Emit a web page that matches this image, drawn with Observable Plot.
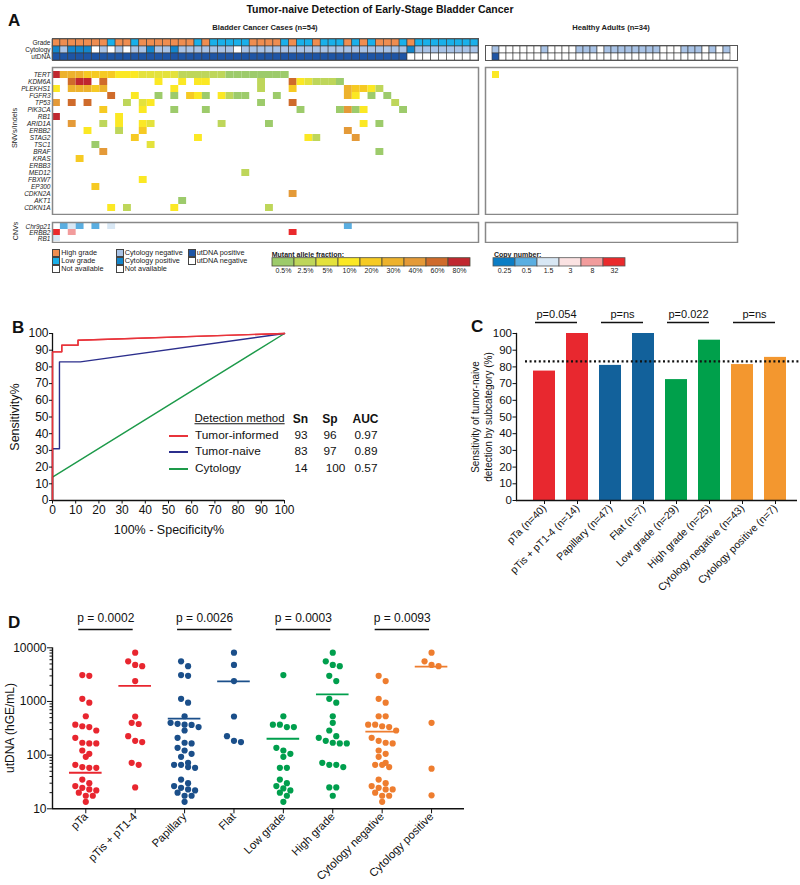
<!DOCTYPE html>
<html><head><meta charset="utf-8">
<script src="https://cdn.jsdelivr.net/npm/d3@7"></script>
<script src="https://cdn.jsdelivr.net/npm/@observablehq/plot@0.6"></script>
<style>
html,body{margin:0;padding:0;background:#fff;}
#root{position:relative;width:800px;height:885px;overflow:hidden;font-family:"Liberation Sans",Arial,sans-serif;color:#111;}
.t{position:absolute;white-space:nowrap;line-height:1;}
.w{position:absolute;}
</style></head><body><div id="root"></div>
<script>
// ================= DATA =================
// ---- Panel A ----
const genes = ["TERT","KDM6A","PLEKHS1","FGFR3","TP53","PIK3CA","RB1","ARID1A","ERBB2","STAG2","TSC1","BRAF","KRAS","ERBB3","MED12","FBXW7","EP300","CDKN2A","AKT1","CDKN1A"];
const cnvRows = ["Chr9p21","ERBB2","RB1"];
const annotRows = ["Grade","Cytology","utDNA"];
const nBladder = 54, nHealthy = 34;
const highGradeCases = [0,1,2,3,4,5,6,8,9,11,12,13,14,15,16,17,19,25,26,27,28,30,33,37,39,41,42,43,45];
const cytoPositiveCases = [0,2,3,4,12,15,45];
const cytoNACases = [5,7,9,23];
const utdnaNegativeCases = [45,46,47,48,49,50,51,52,53];
const healthyCytoNegative = [0,7,12,13,14,16,17,18,19,20,21,22,23,27,28,29,31,33];
const healthyUtdnaPositive = [0];
const annotLabels = ["High grade","Low grade","Cytology negative","Cytology positive","Not available","utDNA positive","utDNA negative"];
const annotColors = ["#ef8d50","#19b0ea","#a9c3e6","#1486cb","#ffffff","#1e55a5","#ffffff"];

const vafLabels = ["0.5%","2.5%","5%","10%","20%","30%","40%","60%","80%"];
const vafColors = ["#9dcb6b","#bed65a","#e4e23c","#fbe824","#f6ca23","#edb22d","#e49a38","#cf6b2b","#c0282f"];
const cnLabels = ["0.25","0.5","1.5","3","8","32"];
const cnColors = ["#0b7dc5","#5aaee1","#d8e7f4","#fbe2e2","#f29c9c","#ea2a2c"];

// SNV/indel calls per gene: [case index, mutant allele fraction bin]
const mTERT = [[0,"80%"],[1,"30%"],[2,"30%"],[3,"30%"],[4,"20%"],[5,"20%"],[6,"20%"],[7,"20%"],[8,"10%"],[9,"10%"],[10,"10%"],[11,"5%"],[12,"5%"],[13,"5%"],[14,"5%"],[15,"5%"],[16,"2.5%"],[17,"2.5%"],[18,"2.5%"],[19,"2.5%"],[20,"2.5%"],[21,"2.5%"],[22,"0.5%"],[23,"0.5%"],[24,"0.5%"],[25,"0.5%"],[26,"0.5%"],[27,"0.5%"],[28,"0.5%"],[29,"0.5%"]];
const mKDM6A = [[2,"60%"],[3,"80%"],[4,"80%"],[6,"60%"],[13,"10%"],[16,"10%"],[18,"10%"],[19,"10%"],[26,"2.5%"],[30,"60%"],[31,"10%"],[32,"5%"],[33,"2.5%"],[34,"2.5%"],[35,"2.5%"],[36,"0.5%"]];
const mPLEKHS1 = [[0,"10%"],[2,"30%"],[3,"30%"],[4,"30%"],[5,"20%"],[6,"30%"],[15,"10%"],[26,"2.5%"],[30,"20%"],[37,"30%"],[38,"20%"],[39,"20%"],[40,"10%"],[41,"2.5%"]];
const mFGFR3 = [[7,"60%"],[10,"10%"],[13,"0.5%"],[15,"0.5%"],[17,"20%"],[18,"10%"],[19,"0.5%"],[21,"10%"],[22,"2.5%"],[23,"0.5%"],[24,"0.5%"],[28,"0.5%"],[37,"30%"],[38,"10%"],[40,"0.5%"],[42,"0.5%"]];
const mTP53 = [[0,"40%"],[2,"60%"],[4,"60%"],[9,"2.5%"],[11,"5%"],[12,"10%"],[26,"0.5%"],[30,"60%"],[43,"2.5%"]];
const mPIK3CA = [[6,"20%"],[11,"10%"],[15,"0.5%"],[19,"0.5%"],[31,"0.5%"],[36,"0.5%"],[37,"40%"],[38,"0.5%"],[39,"10%"],[44,"0.5%"]];
const mRB1 = [[0,"80%"],[8,"10%"]];
const mARID1A = [[2,"40%"],[6,"2.5%"],[8,"10%"],[11,"10%"],[12,"5%"],[21,"2.5%"],[27,"0.5%"],[39,"10%"],[41,"0.5%"]];
const mERBB2 = [[4,"10%"],[8,"2.5%"],[11,"20%"],[37,"40%"]];
const mSTAG2 = [[10,"20%"],[18,"10%"],[32,"10%"],[33,"2.5%"],[38,"40%"]];
const mTSC1 = [[5,"0.5%"],[12,"5%"]];
const mBRAF = [[6,"40%"],[41,"0.5%"]];
const mKRAS = [[3,"20%"]];
const mERBB3 = [];
const mMED12 = [[24,"2.5%"]];
const mFBXW7 = [[11,"10%"]];
const mEP300 = [[5,"20%"]];
const mCDKN2A = [[30,"40%"]];
const mAKT1 = [[16,"0.5%"]];
const mCDKN1A = [[7,"10%"],[9,"2.5%"],[15,"10%"],[27,"2.5%"]];
const healthyTERT = [[0,"10%"]];
// CNV calls (bladder): [case, copy number bin]
const cChr9p21 = [[1,"0.5"],[2,"1.5"],[3,"0.5"],[5,"0.5"],[7,"1.5"],[37,"0.5"]];
const cERBB2 = [[0,"32"],[2,"8"],[30,"32"]];
const cRB1 = [[0,"1.5"]];

// ---- Panel B ----
const rocMethods = ["Tumor-informed","Tumor-naive","Cytology"];
const rocColors = ["#e8343b","#2b2e8c","#1d9a4a"];
const rocSn = ["93","83","14"];
const rocSp = ["96","97","100"];
const rocAUC = ["0.97","0.89","0.57"];
const rocTI_fpr = [0,0,4,4,11,11,100], rocTI_tpr = [0,89,89,93,93,96,100];
const rocTN_fpr = [0,0,3,3,12,100],    rocTN_tpr = [0,31,31,83,83,100];
const rocCY_fpr = [0,0,100],           rocCY_tpr = [0,14,100];

// ---- Panel C ----
const subcats = ["pTa (n=40)","pTis + pT1-4 (n=14)","Papillary (n=47)","Flat (n=7)","Low grade (n=29)","High grade (n=25)","Cytology negative (n=43)","Cytology positive (n=7)"];
const subSens = [77.5,100,80.9,100,72.4,96,81.4,85.7];
const subFamily = ["Stage","Stage","Morphology","Morphology","Grade","Grade","Cytology","Cytology"];
const familyNames = ["Stage","Morphology","Grade","Cytology"];
const familyColors = ["#e8282f","#12619b","#00a04b","#f3972f"];
const overallSens = 83.3;
const pValuesC = ["p=0.054","p=ns","p=0.022","p=ns"];

// ---- Panel D ----
const dGroups = ["pTa","pTis + pT1-4","Papillary","Flat","Low grade","High grade","Cytology negative","Cytology positive"];
const dColors = ["#e8262f","#e8262f","#1b4f8a","#1b4f8a","#009f4d","#009f4d","#ee7d2f","#ee7d2f"];
const utPTa = [3000,3100,1120,950,530,370,333,288,345,210,165,165,170,122,106,93,66,58,58,60,35,30,24.6,26.5,22,20,23,17.5,17.5,13.5];
const utPTis = [8100,5600,4550,4800,2400,525,400,380,226,175,185,72,66,25];
const utPapillary = [5600,4550,3000,3100,1120,950,530,400,370,333,365,383,288,210,165,170,137,122,106,93,72,66,58,60,66,35,30,26.5,24.6,22,20,23,17.5,17.5,13.5];
const utFlat = [8100,4800,2400,525,226,175,185];
const utLowGrade = [3100,530,370,333,333,370,122,137,106,93,58,58,35,30,26.5,24,22,20,17.5,13.5];
const utHighGrade = [8100,5600,4550,4800,3000,2400,1120,950,530,400,288,226,185,165,165,210,170,72,60,66,66,25,25,17.5];
const utCytoNeg = [3000,2400,1120,950,530,530,370,333,345,370,288,185,165,210,170,122,106,93,72,66,60,66,35,30,26.5,24.6,23,20,23,17.5,17.5,13.5];
const utCytoPos = [8100,5600,4800,4550,400,56,17.8];
const dMedians = [47,1950,480,2375,202,1350,275,4470];
const pValuesD = ["p = 0.0002","p = 0.0026","p = 0.0003","p = 0.0093"];

// ================= HELPERS =================
const FONT = '"Liberation Sans", Arial, sans-serif';
const root = document.getElementById("root");
function txt(s, x, y, o = {}) {
  const d = document.createElement("div");
  d.className = "t"; d.textContent = s;
  const size = o.size || 12, weight = o.weight || "normal", anchor = o.anchor || "start";
  const tx = anchor === "middle" ? "-50%" : anchor === "end" ? "-100%" : "0";
  d.style.left = x + "px"; d.style.top = y + "px";
  d.style.fontSize = size + "px"; d.style.fontWeight = weight;
  d.style.color = o.color || "#111";
  d.style.transform = `translate(${tx},-50%)` + (o.rotate ? ` rotate(${o.rotate}deg)` : "");
  if (o.extra) d.style.cssText += o.extra;
  root.appendChild(d); return d;
}
function place(node, x, y) {
  const d = document.createElement("div"); d.className = "w";
  d.style.left = x + "px"; d.style.top = y + "px";
  d.appendChild(node); root.appendChild(d); return d;
}
const baseStyle = {background: "transparent", fontFamily: FONT, color: "#111"};

function heat({data, rows, ncols, domain, range, width, height, ml = 0, mr = 0, mt = 1, mb = 1, labels = false, italic = false, cellStroke, frameStroke = "#888", frameWidth = 1.5}) {
  const marks = [
    Plot.cell(data, {x: "c", y: "r", fill: "v", stroke: cellStroke, strokeWidth: 0.6}),
    Plot.frame({stroke: frameStroke, strokeWidth: frameWidth})
  ];
  if (labels) marks.push(Plot.axisY({tickSize: 0, tickPadding: 2, fontSize: 6.5, fontStyle: italic ? "italic" : "normal", fill: "#222"}));
  return Plot.plot({
    width, height, marginLeft: ml, marginRight: mr, marginTop: mt, marginBottom: mb,
    style: baseStyle,
    x: {type: "band", domain: d3.range(ncols), padding: 0, axis: null, label: null},
    y: {type: "band", domain: rows, padding: 0, label: null, axis: labels ? undefined : null},
    color: {domain, range},
    marks
  });
}

// ================= PANEL A =================
txt("A", 8, 19.5, {size: 17, weight: "bold"});
txt("Tumor-naive Detection of Early-Stage Bladder Cancer", 380, 8.5, {size: 10.5, weight: "bold", anchor: "middle"});
txt("Bladder Cancer Cases (n=54)", 265, 27.5, {size: 7.6, weight: "bold", anchor: "middle", color: "#222"});
txt("Healthy Adults (n=34)", 611, 27.5, {size: 7.6, weight: "bold", anchor: "middle", color: "#222"});
txt("SNVs/Indels", 15, 128, {size: 7.3, anchor: "middle", rotate: -90, color: "#222"});
txt("CNVs", 15, 231, {size: 7, anchor: "middle", rotate: -90, color: "#222"});

const bladderAnnot = d3.range(nBladder).flatMap(i => [
  {c: i, r: "Grade", v: highGradeCases.includes(i) ? "High grade" : "Low grade"},
  {c: i, r: "Cytology", v: cytoPositiveCases.includes(i) ? "Cytology positive" : cytoNACases.includes(i) ? "Not available" : "Cytology negative"},
  {c: i, r: "utDNA", v: utdnaNegativeCases.includes(i) ? "utDNA negative" : "utDNA positive"}
]);
const healthyAnnot = d3.range(nHealthy).flatMap(i => [
  {c: i, r: "Cytology", v: healthyCytoNegative.includes(i) ? "Cytology negative" : "Not available"},
  {c: i, r: "utDNA", v: healthyUtdnaPositive.includes(i) ? "utDNA positive" : "utDNA negative"}
]);
const snvByGene = {TERT: mTERT, KDM6A: mKDM6A, PLEKHS1: mPLEKHS1, FGFR3: mFGFR3, TP53: mTP53, PIK3CA: mPIK3CA, RB1: mRB1, ARID1A: mARID1A, ERBB2: mERBB2, STAG2: mSTAG2, TSC1: mTSC1, BRAF: mBRAF, KRAS: mKRAS, ERBB3: mERBB3, MED12: mMED12, FBXW7: mFBXW7, EP300: mEP300, CDKN2A: mCDKN2A, AKT1: mAKT1, CDKN1A: mCDKN1A};
const bladderSNV = genes.flatMap(g => snvByGene[g].map(([c, v]) => ({c, r: g, v})));
const healthySNV = healthyTERT.map(([c, v]) => ({c, r: "TERT", v}));
const cnvByRow = {Chr9p21: cChr9p21, ERBB2: cERBB2, RB1: cRB1};
const bladderCNV = cnvRows.flatMap(g => cnvByRow[g].map(([c, v]) => ({c, r: g, v})));

place(heat({data: bladderAnnot, rows: annotRows, ncols: nBladder, domain: annotLabels, range: annotColors, width: 480, height: 24, ml: 52, mr: 2, labels: true, cellStroke: "#3a3a3a", frameStroke: "#555", frameWidth: 1}), 0, 37);
place(heat({data: healthyAnnot, rows: ["Cytology","utDNA"], ncols: nHealthy, domain: annotLabels, range: annotColors, width: 256, height: 17, ml: 2, mr: 2, cellStroke: "#3a3a3a", frameStroke: "#555", frameWidth: 1}), 483, 44);
place(heat({data: bladderSNV, rows: genes, ncols: nBladder, domain: vafLabels, range: vafColors, width: 480, height: 149, ml: 52, mr: 2, labels: true, italic: true}), 0, 66);
place(heat({data: healthySNV, rows: genes, ncols: nHealthy, domain: vafLabels, range: vafColors, width: 256, height: 149, ml: 2, mr: 2}), 483, 66);
place(heat({data: bladderCNV, rows: cnvRows, ncols: nBladder, domain: cnLabels, range: cnColors, width: 480, height: 22, ml: 52, mr: 2, labels: true, italic: true}), 0, 221);
place(heat({data: [], rows: cnvRows, ncols: nHealthy, domain: cnLabels, range: cnColors, width: 256, height: 22, ml: 2, mr: 2}), 483, 221);

// category legends
function swatch(color, x, y, label) {
  const b = document.createElement("div");
  b.style.cssText = `position:absolute;left:${x}px;top:${y}px;width:6.2px;height:6.2px;background:${color};border:0.8px solid #444;`;
  root.appendChild(b);
  txt(label, x + 9, y + 4, {size: 7.3, color: "#222"});
}
const legGroups = [
  [52.3, ["High grade","Low grade","Not available"]],
  [115.7, ["Cytology negative","Cytology positive","Not available"]],
  [187.7, ["utDNA positive","utDNA negative"]]
];
legGroups.forEach(([x, items]) => items.forEach((lab, k) => swatch(annotColors[annotLabels.indexOf(lab)], x, 249.3 + k * 7.9, lab)));

function colorBar(labels, colors, width, ml, mr, stroke) {
  return Plot.plot({
    width, height: 27, marginLeft: ml, marginRight: mr, marginTop: 7.7, marginBottom: 11,
    style: baseStyle,
    x: {type: "band", domain: labels, padding: 0, label: null},
    color: {domain: labels, range: colors},
    marks: [
      Plot.cell(labels, {x: d => d, fill: d => d, stroke, strokeWidth: 0.8}),
      Plot.axisX({tickSize: 0, tickPadding: 2, fontSize: 7, fill: "#222"})
    ]
  });
}
txt("Mutant allele fraction:", 271.7, 253.5, {size: 7, weight: "bold", color: "#222"});
place(colorBar(vafLabels, vafColors, 205, 2.7, 2.3, "#4a4a3a"), 268, 250);
txt("Copy number:", 494, 253.5, {size: 7, weight: "bold", color: "#222"});
place(colorBar(cnLabels, cnColors, 140, 2.3, 3.7, "#555"), 490, 250);

// ================= PANEL B =================
txt("B", 12, 326.5, {size: 17, weight: "bold"});
const rocData = [
  ...rocCY_fpr.map((f, i) => ({m: "Cytology", fpr: f, tpr: rocCY_tpr[i]})),
  ...rocTN_fpr.map((f, i) => ({m: "Tumor-naive", fpr: f, tpr: rocTN_tpr[i]})),
  ...rocTI_fpr.map((f, i) => ({m: "Tumor-informed", fpr: f, tpr: rocTI_tpr[i]}))
];
const plotB = Plot.plot({
  width: 300, height: 220, marginLeft: 52, marginRight: 16, marginTop: 15, marginBottom: 38,
  style: baseStyle,
  x: {domain: [0, 100], label: null},
  y: {domain: [0, 100], label: null},
  color: {domain: rocMethods, range: rocColors},
  marks: [
    Plot.line(rocData, {x: "fpr", y: "tpr", z: "m", stroke: "m", strokeWidth: 1.4}),
    Plot.ruleX([0], {stroke: "#111", strokeWidth: 1.3}),
    Plot.ruleY([0], {stroke: "#111", strokeWidth: 1.3}),
    Plot.line(rocData.filter(d => d.m === "Tumor-informed"), {x: "fpr", y: "tpr", stroke: "m", strokeWidth: 1.4}),
    Plot.axisX({ticks: d3.range(0, 101, 10), tickSize: 3.5, tickPadding: 1.5, fontSize: 12}),
    Plot.axisY({ticks: d3.range(0, 101, 10), tickSize: 3, tickPadding: 1, fontSize: 12})
  ]
});
place(plotB, 0, 318);
txt("Sensitivity%", 15, 417, {size: 12.5, anchor: "middle", rotate: -90});
txt("100% - Specificity%", 169, 530, {size: 12.5, anchor: "middle"});
// legend table
txt("Detection method", 194.5, 418.5, {size: 11.5, extra: "text-decoration:underline;"});
txt("Sn", 300.5, 418.5, {size: 12, weight: "bold", anchor: "middle"});
txt("Sp", 330, 418.5, {size: 12, weight: "bold", anchor: "middle"});
txt("AUC", 365.5, 418.5, {size: 12, weight: "bold", anchor: "middle"});
rocMethods.forEach((m, k) => {
  const y = 435.5 + k * 16.6;
  const ln = document.createElement("div");
  ln.style.cssText = `position:absolute;left:169px;top:${Math.round(y) - 1}px;width:19px;height:2px;background:${rocColors[k]};`;
  root.appendChild(ln);
  txt(m, 195, y, {size: 11.8});
  txt(rocSn[k], 301, y, {size: 11.8, anchor: "middle"});
  txt(rocSp[k], k === 2 ? 335.5 : 330, y, {size: 11.8, anchor: "middle"});
  txt(rocAUC[k], 366, y, {size: 11.8, anchor: "middle"});
});

// ================= PANEL C =================
txt("C", 471, 325.5, {size: 17, weight: "bold"});
const cData = subcats.map((s, i) => ({cat: s, sens: subSens[i], fam: subFamily[i]}));
const cPairs = pValuesC.map((p, k) => ({a: subcats[2 * k], b: subcats[2 * k + 1], p}));
const plotC = Plot.plot({
  width: 410, height: 310, marginLeft: 126, marginRight: 3, marginTop: 33, marginBottom: 110,
  style: baseStyle,
  x: {type: "band", domain: subcats, paddingInner: 0.32, paddingOuter: 0.375, align: 0.6, label: null},
  y: {domain: [0, 100], label: null},
  color: {domain: familyNames, range: familyColors},
  marks: [
    Plot.barY(cData, {x: "cat", y: "sens", fill: "fam"}),
    Plot.ruleY([overallSens], {stroke: "#111", strokeWidth: 2.2, strokeDasharray: "2,2.6", insetLeft: 9, insetRight: -4}),
    Plot.frame({anchor: "left", stroke: "#111", strokeWidth: 1.3}),
    Plot.ruleY([0], {stroke: "#111", strokeWidth: 1.3}),
    Plot.axisY({ticks: d3.range(0, 101, 10), tickSize: 3.5, tickPadding: 1, fontSize: 11.5}),
    Plot.axisX({tickSize: 4, tickPadding: 2, fontSize: 10.5, tickRotate: -45}),
    Plot.ruleY(cPairs, {x1: "a", x2: "b", y: () => 100, dy: -11, stroke: "#111", strokeWidth: 1.3, insetLeft: 2, insetRight: 11}),
    Plot.text(cPairs, {x: "a", y: () => 100, text: "p", dy: -19.5, dx: 12, fontSize: 11, lineAnchor: "middle"})
  ]
});
place(plotC, 390, 300);
{
  const d = txt("", 481.5, 416.7, {size: 10, anchor: "middle", rotate: -90, extra: "text-align:center;line-height:13px;"});
  d.innerHTML = "Sensitivity of tumor-naive<br>detection by subcategory (%)";
}

// ================= PANEL D =================
txt("D", 8, 621.5, {size: 17, weight: "bold"});
const dValues = [utPTa, utPTis, utPapillary, utFlat, utLowGrade, utHighGrade, utCytoNeg, utCytoPos];
const D = {w: 480, h: 325, ml: 52, mr: 16, mt: 87.3, mb: 76.7, xmin: -0.674, xmax: 7.667};
const pxPerDecade = (D.h - D.mt - D.mb) / 3;
const pxPerUnit = (D.w - D.ml - D.mr) / (D.xmax - D.xmin);
const dotDiam = 6.2, dotStep = 7;
function swarm(vals) {
  const sorted = [...vals].sort((a, b) => b - a);
  const rows = [];
  for (const v of sorted) {
    const y = Math.log10(v) * pxPerDecade;
    const last = rows[rows.length - 1];
    if (last && last.y0 - y < dotDiam) last.items.push(v); else rows.push({y0: y, items: [v]});
  }
  return rows.flatMap(r => r.items.map((v, k) => ({v, off: (k - (r.items.length - 1) / 2) * dotStep})));
}
const dDots = dGroups.flatMap((g, gi) => swarm(dValues[gi]).map(p => ({g, gi, v: p.v, off: p.off})));
const dMed = dGroups.map((g, gi) => ({g, gi, m: dMedians[gi]}));
const dPairs = pValuesD.map((p, k) => ({a: 2 * k, b: 2 * k + 1, p}));
const minorTicks = [10, 100, 1000].flatMap(e => [2,3,4,5,6,7,8,9].map(k => k * e));
const plotD = Plot.plot({
  width: D.w, height: D.h, marginLeft: D.ml, marginRight: D.mr, marginTop: D.mt, marginBottom: D.mb,
  style: baseStyle,
  x: {domain: [D.xmin, D.xmax], label: null},
  y: {type: "log", domain: [10, 10000], label: null},
  color: {domain: dGroups, range: dColors},
  marks: [
    Plot.ruleX([D.xmin], {stroke: "#111", strokeWidth: 1.4}),
    Plot.ruleY([10], {stroke: "#111", strokeWidth: 1.4}),
    Plot.ruleY(dMed, {x1: d => d.gi - 0.33, x2: d => d.gi + 0.33, y: "m", stroke: "g", strokeWidth: 1.8}),
    Plot.dot(dDots, {x: d => d.gi + d.off / pxPerUnit, y: "v", fill: "g", r: 3.1}),
    Plot.axisY({ticks: [10, 100, 1000, 10000], tickFormat: d3.format("d"), tickSize: 5, tickPadding: 1, fontSize: 12}),
    Plot.axisY({ticks: minorTicks, tickFormat: () => "", tickSize: 2.5}),
    Plot.axisX({ticks: d3.range(dGroups.length), tickFormat: i => dGroups[i], tickSize: 5, tickPadding: 1, fontSize: 11.3, tickRotate: -45}),
    Plot.ruleY(dPairs, {x1: "a", x2: "b", y: () => 10000, dy: -18.3, stroke: "#111", strokeWidth: 1.5, insetLeft: -7, insetRight: 2}),
    Plot.text(dPairs, {x: "a", y: () => 10000, text: "p", dy: -29.6, dx: 20, fontSize: 12, lineAnchor: "middle"})
  ]
});
place(plotD, 0, 560);
txt("utDNA (hGE/mL)", 9.5, 727.5, {size: 12, anchor: "middle", rotate: -90});
</script></body></html>
